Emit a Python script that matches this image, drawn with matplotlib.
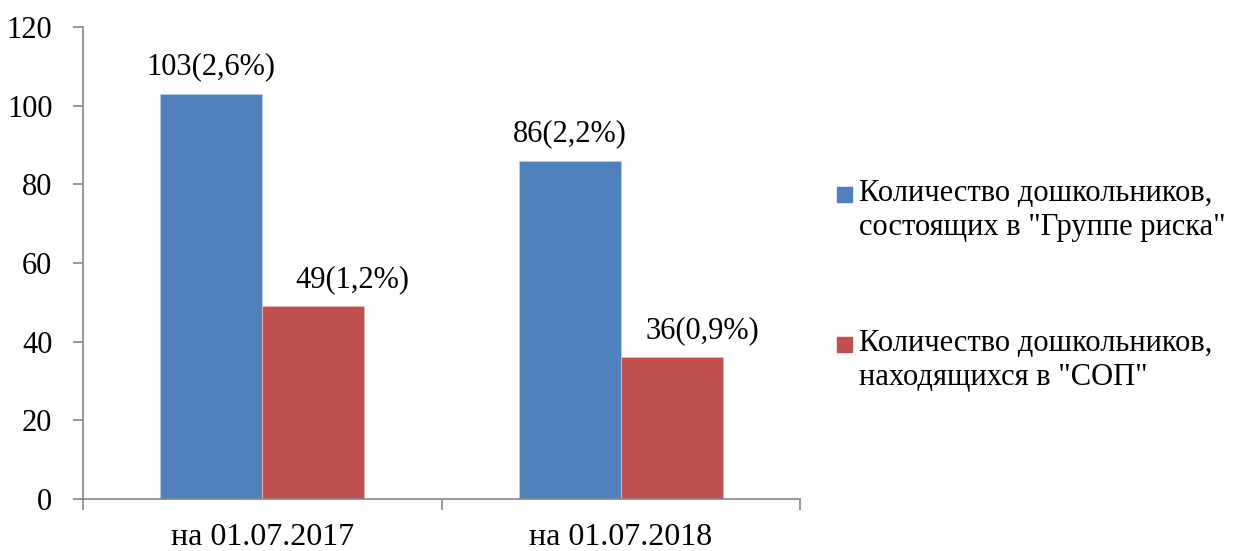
import matplotlib
matplotlib.use('Agg')
import matplotlib.pyplot as plt
from matplotlib.patches import Rectangle
import numpy as np

plt.rcParams['font.family'] = ['Liberation Serif', 'DejaVu Serif']

categories = ['на 01.07.2017', 'на 01.07.2018']
risk_group = [103, 86]
risk_pct = ['2,6', '2,2']
sop = [49, 36]
sop_pct = ['1,2', '0,9']
series_names = ['Количество дошкольников,\nсостоящих в "Группе риска"',
                'Количество дошкольников,\nнаходящихся в "СОП"']
colors = ['#4F81BD', '#C0504D']

fig = plt.figure(figsize=(12.53, 5.51), dpi=100)
ax = fig.add_axes([83/1253, 1-499/551, (800-83)/1253, (499-27)/551])

x = np.arange(len(categories))
w = 0.284
b1 = ax.bar(x - w/2, risk_group, w, color=colors[0], edgecolor='#b9cde5', linewidth=0.6)
b2 = ax.bar(x + w/2, sop, w, color=colors[1], edgecolor='#e6b9b8', linewidth=0.6)

# the red labels sit a little to the right of their bars, as in the original
label_dx = [[0, 0], [28, 22]]
for bars, vals, pcts, dxs in [(b1, risk_group, risk_pct, label_dx[0]),
                              (b2, sop, sop_pct, label_dx[1])]:
    for rect, v, p, dx in zip(bars, vals, pcts, dxs):
        ax.annotate(f'{v}({p}%)', (rect.get_x() + rect.get_width()/2, v),
                    xytext=(dx, 9), textcoords='offset points',
                    ha='center', va='bottom', fontsize=22)

ax.set_xlim(-0.5, 1.5)
ax.set_ylim(0, 120)
ax.set_yticks(range(0, 121, 20))
ax.set_xticks(x)
ax.set_xticklabels(categories)
ax.set_xticks([-0.5, 0.5, 1.5], minor=True)
ax.tick_params(axis='x', which='major', length=0, pad=17, labelsize=23)
ax.tick_params(axis='x', which='minor', length=8, color='#868686', width=1.2)
ax.tick_params(axis='y', length=7, color='#868686', width=1.2, pad=15, labelsize=22)

for s in ['top', 'right']:
    ax.spines[s].set_visible(False)
for s in ['left', 'bottom']:
    ax.spines[s].set_color('#868686')
    ax.spines[s].set_linewidth(1.2)

# legend drawn by hand so the square sits on the first text line
legend_tops = [185, 335]
for name, c, top in zip(series_names, colors, legend_tops):
    fig.patches.append(Rectangle((837/1253, 1-(top+17)/551), 15/1253, 15/551,
                                 transform=fig.transFigure, color=c))
    fig.text(859/1253, 1-(top-6)/551, name, fontsize=22, va='top', ha='left',
             linespacing=1.25)

fig.savefig('out.png', dpi=100)
